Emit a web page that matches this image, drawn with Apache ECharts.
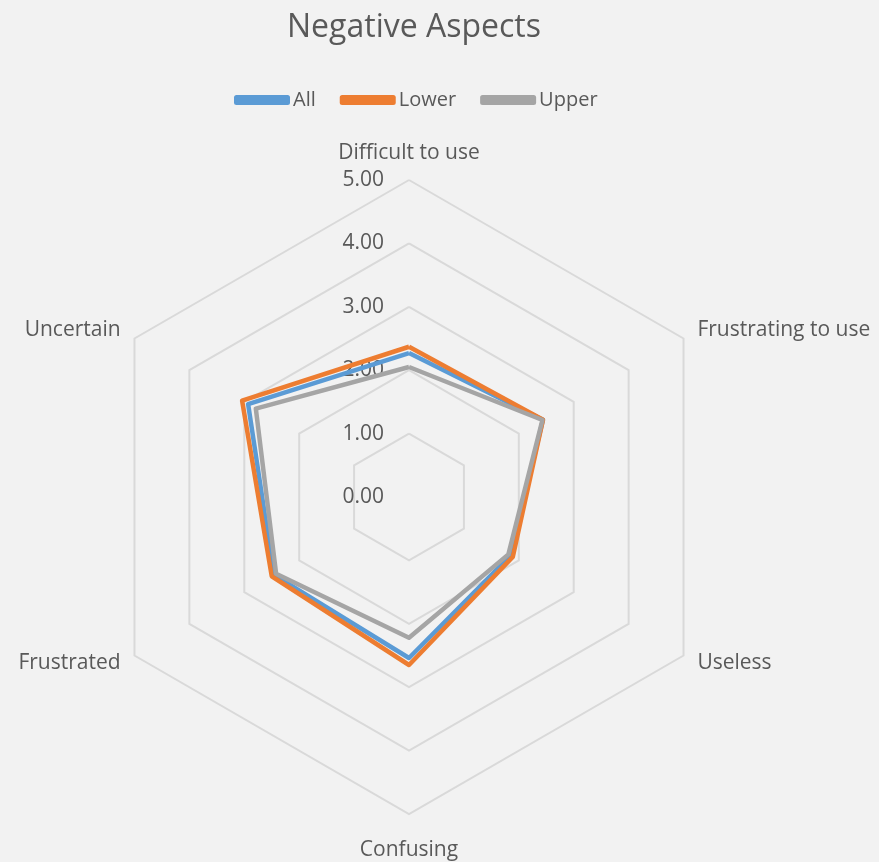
<!DOCTYPE html>
<html>
<head>
<meta charset="utf-8">
<script src="https://cdn.jsdelivr.net/npm/echarts@6/dist/echarts.min.js"></script>
<style>
  html, body { margin: 0; padding: 0; background: #f2f2f2; }
  #radar { width: 879px; height: 862px; }
</style>
</head>
<body>
<div id="radar"></div>
<script>
// indicators in ECharts order (top, then counterclockwise)
const indicators = ['Difficult to use', 'Uncertain', 'Frustrated', 'Confusing', 'Useless', 'Frustrating to use']
const seriesNames = ['All', 'Lower', 'Upper']
const allValues = [2.27, 2.93, 2.46, 2.54, 1.85, 2.44]
const lowerValues = [2.37, 3.04, 2.50, 2.65, 1.89, 2.44]
const upperValues = [2.05, 2.79, 2.42, 2.22, 1.81, 2.43]
const colors = ['#5b9bd5', '#ed7d31', '#a5a5a5']

const font = '"Open Sans", sans-serif'
const myChart = echarts.init(document.getElementById('radar'))

myChart.setOption({
  backgroundColor: '#f2f2f2',
  textStyle: { fontFamily: font },
  title: {
    text: 'Negative Aspects',
    left: 409,
    textAlign: 'center',
    top: 7,
    textStyle: { color: '#595959', fontSize: 32, fontWeight: 'normal', fontFamily: font }
  },
  legend: {
    data: seriesNames,
    top: 85,
    left: 229,
    itemWidth: 56,
    itemHeight: 10,
    itemGap: 24,
    lineStyle: { width: 4.5, cap: 'round' },
    textStyle: { color: '#595959', fontSize: 20, padding: [0, 0, 0, -2] }
  },
  radar: {
    center: [409, 497],
    radius: 317,
    startAngle: 90,
    splitNumber: 5,
    shape: 'polygon',
    nameGap: 16,
    axisName: { color: '#595959', fontSize: 21, padding: [10, 0, 0, 0] },
    axisLine: { show: false },
    axisTick: { show: false },
    splitArea: { show: false },
    splitLine: { lineStyle: { color: '#d9d9d9', width: 2 } },
    axisLabel: { show: false },
    indicator: indicators.map(function (name, i) {
      const ind = { name: name, min: 0, max: 5 }
      if (i === 0) {
        ind.axisLabel = {
          show: true,
          color: '#595959',
          fontSize: 21,
          margin: 25,
          padding: [3, 0, 0, 0],
          formatter: function (v) { return v.toFixed(2) }
        }
      }
      return ind
    })
  },
  series: [
    {
      type: 'radar',
      symbol: 'none',
      data: [
        { name: 'All', value: allValues, lineStyle: { color: colors[0], width: 4.5 }, itemStyle: { color: colors[0] } },
        { name: 'Lower', value: lowerValues, lineStyle: { color: colors[1], width: 4.5 }, itemStyle: { color: colors[1] } },
        { name: 'Upper', value: upperValues, lineStyle: { color: colors[2], width: 4.5 }, itemStyle: { color: colors[2] } }
      ]
    }
  ]
})
</script>
</body>
</html>
